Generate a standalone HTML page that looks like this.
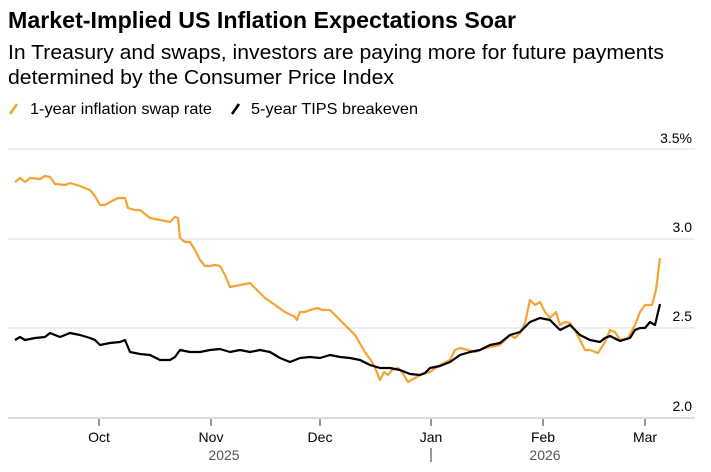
<!DOCTYPE html>
<html><head><meta charset="utf-8"><style>
body{margin:0;width:711px;height:467px;background:#fff;font-family:"Liberation Sans",sans-serif;overflow:hidden}
</style></head><body>
<svg width="711" height="467" xmlns="http://www.w3.org/2000/svg" font-family="Liberation Sans, sans-serif">
<text x="8" y="28" font-size="23" font-weight="bold" fill="#000" textLength="508" lengthAdjust="spacingAndGlyphs">Market-Implied US Inflation Expectations Soar</text>
<text x="8" y="59" font-size="20" fill="#000" textLength="656" lengthAdjust="spacingAndGlyphs">In Treasury and swaps, investors are paying more for future payments</text>
<text x="8" y="84" font-size="20" fill="#000" textLength="386" lengthAdjust="spacingAndGlyphs">determined by the Consumer Price Index</text>
<line x1="10" y1="114" x2="17" y2="104" stroke="#f7a234" stroke-width="2.5"/>
<text x="30" y="114" font-size="16" fill="#000" textLength="182" lengthAdjust="spacingAndGlyphs">1-year inflation swap rate</text>
<line x1="232" y1="114" x2="239" y2="104" stroke="#000" stroke-width="2.5"/>
<text x="251" y="114" font-size="16" fill="#000" textLength="167" lengthAdjust="spacingAndGlyphs">5-year TIPS breakeven</text>
<g stroke="#ddd" stroke-width="1">
<line x1="8" y1="149" x2="695" y2="149"/><line x1="8" y1="239" x2="695" y2="239"/><line x1="8" y1="328" x2="695" y2="328"/>
</g>
<line x1="8" y1="418" x2="695" y2="418" stroke="#bbb"/>
<g font-size="14" fill="#000" text-anchor="end">
<text x="692" y="143">3.5%</text><text x="692" y="232">3.0</text><text x="692" y="321">2.5</text><text x="692" y="411">2.0</text>
</g>
<g stroke="#555" stroke-width="1.2">
<line x1="99" y1="419" x2="99" y2="426"/><line x1="211" y1="419" x2="211" y2="426"/><line x1="320" y1="419" x2="320" y2="426"/><line x1="431" y1="419" x2="431" y2="426"/><line x1="543" y1="419" x2="543" y2="426"/><line x1="645" y1="419" x2="645" y2="426"/>
<line x1="431" y1="448" x2="431" y2="462"/>
</g>
<g font-size="14" fill="#000" text-anchor="middle">
<text x="99" y="442">Oct</text><text x="211" y="442">Nov</text><text x="320" y="442">Dec</text><text x="431" y="442">Jan</text><text x="543" y="442">Feb</text><text x="645" y="442">Mar</text>
</g>
<g font-size="14" fill="#555" text-anchor="middle"><text x="224" y="460">2025</text><text x="545" y="460">2026</text></g>
<polyline fill="none" stroke="#f7a234" stroke-width="2.2" stroke-linejoin="round" points="15,182 20,178 25,182 30,178 40,179 45,176 50,177 55,184 65,185 70,183 80,186 90,190 95,196 100,205 105,205 110,202 118,198 125,198 128,208 135,210 140,210 150,218 160,220 170,222 175,217 178,218 180,238 185,242 190,242 195,250 200,260 205,266 210,266 215,265 220,266 225,275 230,287 240,285 250,283 255,288 265,298 275,305 285,312 295,317 297,320 300,312 305,312 310,310 318,308 322,310 330,310 335,315 345,325 355,335 365,352 372,362 376,370 380,380 384,372 388,375 392,370 398,368 402,372 408,382 415,378 422,374 430,372 440,365 450,360 455,350 460,348 468,350 475,352 485,348 500,345 510,335 515,338 520,333 525,323 530,300 535,305 540,302 545,312 550,318 556,312 560,325 565,322 570,323 575,330 580,340 585,350 590,350 598,353 605,342 610,330 615,332 620,340 628,338 635,325 640,312 645,305 652,305 656,290 660,258"/>
<polyline fill="none" stroke="#000" stroke-width="2.2" stroke-linejoin="round" points="15,340 20,337 25,340 35,338 45,337 50,333 60,337 70,333 80,335 90,338 95,340 100,345 110,343 120,342 125,340 130,352 140,354 150,355 160,360 170,360 175,357 180,350 190,352 200,352 210,350 220,349 230,352 240,350 250,352 260,350 270,352 280,358 290,362 300,358 310,357 320,358 330,355 340,357 350,358 360,360 370,365 380,368 390,368 400,370 410,374 420,375 425,373 430,368 440,366 450,362 460,355 470,352 480,350 490,345 500,343 510,335 520,332 530,322 540,318 550,320 555,325 560,330 570,325 575,330 580,335 590,340 600,342 605,338 610,336 620,341 630,338 635,330 640,328 645,328 650,322 655,325 660,304"/>
</svg>
</body></html>
